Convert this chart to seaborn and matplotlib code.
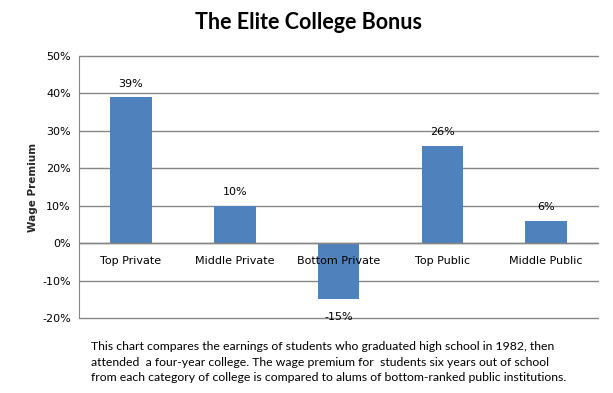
import matplotlib
matplotlib.use("Agg")
import matplotlib.pyplot as plt
import seaborn as sns
import pandas as pd

categories = ["Top Private", "Middle Private", "Bottom Private", "Top Public", "Middle Public"]
premium = [39, 10, -15, 26, 6]
yticks = [-20, -10, 0, 10, 20, 30, 40, 50]

caption = ("This chart compares the earnings of students who graduated high school in 1982, then\n"
           "attended  a four-year college. The wage premium for  students six years out of school\n"
           "from each category of college is compared to alums of bottom-ranked public institutions.")

df = pd.DataFrame({"category": categories, "premium": premium})

sns.set_style("white")
plt.rcParams["font.family"] = ["DejaVu Sans"]

fig = plt.figure(figsize=(6.13, 3.93), dpi=100)
ax = fig.add_axes([0.129, 0.191, 0.8465, 0.6665])

sns.barplot(data=df, x="category", y="premium", color="#4F81BD", width=0.4,
            saturation=1, linewidth=0, ax=ax, zorder=3)

ax.set_ylim(-20, 50)
ax.set_xlim(-0.5, len(categories) - 0.5)
ax.set_yticks(yticks)
ax.set_yticklabels([f"{v}%" for v in yticks], fontsize=8, color="black")
ax.yaxis.grid(True, color="#868686", linewidth=1)
ax.xaxis.grid(False)
for gl in ax.get_ygridlines():
    gl.set_clip_on(False)

for s in ["top", "right", "bottom"]:
    ax.spines[s].set_visible(False)
ax.spines["left"].set_color("#868686")
ax.tick_params(axis="y", direction="out", length=4, color="#868686", pad=2)
ax.set_xticks([])
ax.set_xlabel("")
ax.set_ylabel("Wage Premium", fontsize=7.5, fontweight="bold", labelpad=3)

# category labels sit just under the zero line, drawn over the bars
for i, name in enumerate(categories):
    ax.annotate(name, (i, 0), xytext=(0, -13), textcoords="offset points",
                ha="center", va="center", fontsize=8, color="black", zorder=6)

# zero line on top of bars, like the category axis
ax.axhline(0, color="#868686", linewidth=1, zorder=4)

for i, v in enumerate(premium):
    if v >= 0:
        ax.annotate(f"{v}%", (i, v), xytext=(0, 6), textcoords="offset points",
                    ha="center", va="bottom", fontsize=8, color="black")
    else:
        ax.annotate(f"{v}%", (i, v), xytext=(0, -9), textcoords="offset points",
                    ha="center", va="top", fontsize=8, color="black")

fig.text(0.503, 0.942, "The Elite College Bonus", ha="center", va="center",
         fontsize=15.5, fontweight="bold", color="black", family=["Lato", "DejaVu Sans"])
fig.text(0.148, 0.132, caption, ha="left", va="top", fontsize=8.8, color="black",
         linespacing=1.5, family=["Lato", "DejaVu Sans"])

fig.savefig("out.png", dpi=100)
